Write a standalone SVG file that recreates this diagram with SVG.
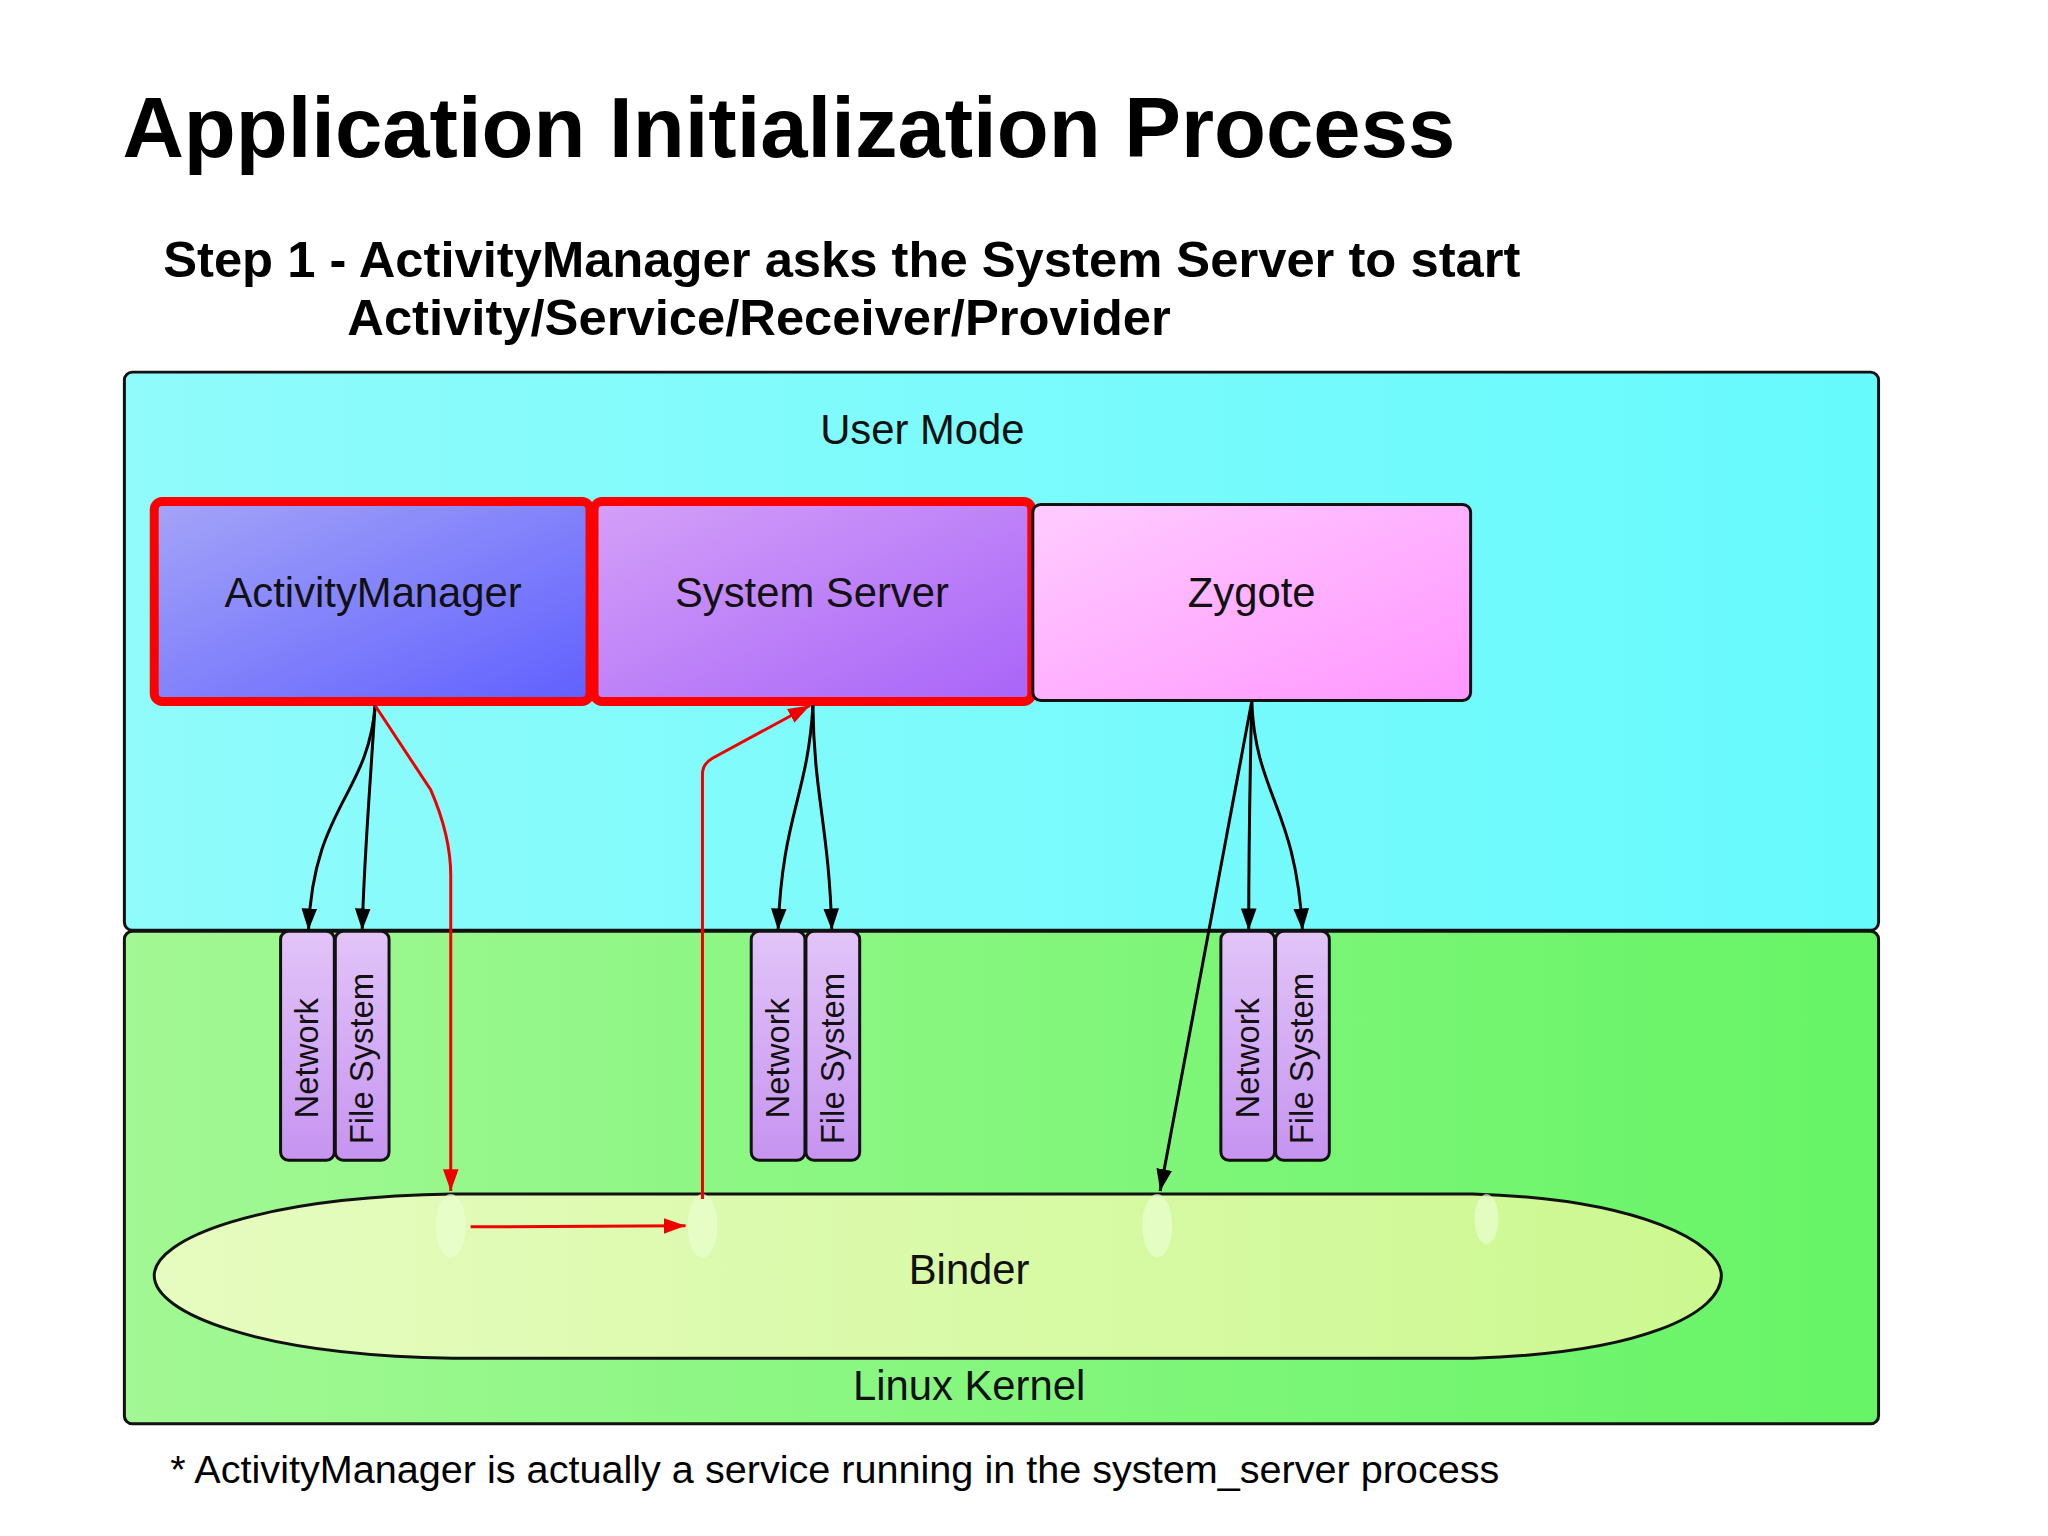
<svg xmlns="http://www.w3.org/2000/svg" width="2048" height="1536" viewBox="0 0 2048 1536">
<defs>
<linearGradient id="gU" x1="0" y1="0" x2="1" y2="0"><stop offset="0" stop-color="#90fbfb"/><stop offset="1" stop-color="#66fafd"/></linearGradient>
<linearGradient id="gK" x1="0" y1="0" x2="1" y2="0"><stop offset="0" stop-color="#a2f894"/><stop offset="1" stop-color="#66f466"/></linearGradient>
<linearGradient id="gAM" x1="0" y1="0" x2="1" y2="1"><stop offset="0" stop-color="#a4a4f8"/><stop offset="1" stop-color="#6060ff"/></linearGradient>
<linearGradient id="gSS" x1="0" y1="0" x2="1" y2="1"><stop offset="0" stop-color="#d4a0f8"/><stop offset="1" stop-color="#a864f8"/></linearGradient>
<linearGradient id="gZ" x1="0" y1="0" x2="1" y2="1"><stop offset="0" stop-color="#ffccff"/><stop offset="1" stop-color="#ff96ff"/></linearGradient>
<linearGradient id="gS" x1="0" y1="0" x2="0" y2="1"><stop offset="0" stop-color="#e2c4f8"/><stop offset="1" stop-color="#c694f0"/></linearGradient>
<linearGradient id="gB" x1="0" y1="0" x2="1" y2="0"><stop offset="0" stop-color="#e6fcc0"/><stop offset="1" stop-color="#ccf890"/></linearGradient>
<marker id="ak" viewBox="0 0 14 10" refX="14" refY="5" markerWidth="22" markerHeight="16" markerUnits="userSpaceOnUse" orient="auto"><path d="M0,0 L14,5 L0,10 z" fill="#000"/></marker>
<marker id="ar" viewBox="0 0 14 10" refX="14" refY="5" markerWidth="22" markerHeight="16" markerUnits="userSpaceOnUse" orient="auto"><path d="M0,0 L14,5 L0,10 z" fill="#e00"/></marker>
</defs>
<style>
text{font-family:"Liberation Sans",Arial,sans-serif;fill:#111}
.lbl{font-size:42px;text-anchor:middle}
.sm{font-size:33px}
.box{stroke:#111;stroke-width:3}
.k{fill:none;stroke:#000;stroke-width:3;marker-end:url(#ak)}
.r{fill:none;stroke:#e00;stroke-width:3;marker-end:url(#ar)}
</style>
<rect width="2048" height="1536" fill="#fff"/>
<g transform="scale(0.995)">
<text x="123" y="158" font-size="85.5" font-weight="bold" style="fill:#000">Application Initialization Process</text>
<text x="164" y="278" font-size="51" font-weight="bold" style="fill:#000">Step 1 - ActivityManager asks the System Server to start</text>
<text x="349" y="337" font-size="51" font-weight="bold" style="fill:#000">Activity/Service/Receiver/Provider</text>

<g id="usermode"><rect x="125" y="374" width="1763" height="561" rx="8" fill="url(#gU)" class="box"/><text class="lbl" x="927" y="446">User Mode</text></g>
<g id="kernel"><rect x="125" y="936" width="1763" height="495" rx="8" fill="url(#gK)" class="box"/><text class="lbl" x="974" y="1407">Linux Kernel</text></g>
<g id="binder"><path d="M455,1200 H1480 C1650,1205 1730,1250 1730,1282 C1730,1320 1650,1360 1480,1365 H455 C260,1362 155,1320 155,1282 C155,1245 260,1203 455,1200 Z" fill="url(#gB)" class="box"/>
<g fill="#eaffd0" opacity="0.7"><ellipse cx="453" cy="1232" rx="15" ry="32"/><ellipse cx="706" cy="1232" rx="15" ry="32"/><ellipse cx="1163" cy="1232" rx="15" ry="32"/><ellipse cx="1494" cy="1225" rx="12" ry="25"/></g>
<text class="lbl" x="974" y="1290">Binder</text></g>

<g id="am"><rect x="155" y="504" width="438" height="201" rx="8" fill="url(#gAM)" stroke="#f00" stroke-width="9"/><text class="lbl" x="375" y="610">ActivityManager</text></g>
<g id="ss"><rect x="597" y="504" width="440" height="201" rx="8" fill="url(#gSS)" stroke="#f00" stroke-width="9"/><text class="lbl" x="816" y="610">System Server</text></g>
<g id="zygote"><rect x="1038" y="507" width="440" height="197" rx="8" fill="url(#gZ)" class="box"/><text class="lbl" x="1258" y="610">Zygote</text></g>

<g id="am-net"><rect x="282" y="936" width="54" height="230" rx="8" fill="url(#gS)" class="box"/><text class="sm" transform="translate(320,1124) rotate(-90)">Network</text></g>
<g id="am-fs"><rect x="337" y="936" width="54" height="230" rx="8" fill="url(#gS)" class="box"/><text class="sm" transform="translate(375,1150) rotate(-90)">File System</text></g>
<g id="ss-net"><rect x="755" y="936" width="54" height="230" rx="8" fill="url(#gS)" class="box"/><text class="sm" transform="translate(793,1124) rotate(-90)">Network</text></g>
<g id="ss-fs"><rect x="810" y="936" width="54" height="230" rx="8" fill="url(#gS)" class="box"/><text class="sm" transform="translate(848,1150) rotate(-90)">File System</text></g>
<g id="z-net"><rect x="1227" y="936" width="54" height="230" rx="8" fill="url(#gS)" class="box"/><text class="sm" transform="translate(1265,1124) rotate(-90)">Network</text></g>
<g id="z-fs"><rect x="1282" y="936" width="54" height="230" rx="8" fill="url(#gS)" class="box"/><text class="sm" transform="translate(1320,1150) rotate(-90)">File System</text></g>

<g id="connectors">
<path class="k" d="M377,709 C370,800 315,810 310,935"/>
<path class="k" d="M377,709 C372,790 366,860 364,935"/>
<path class="k" d="M817,709 C812,800 786,820 782,935"/>
<path class="k" d="M817,709 C818,800 833,830 836,935"/>
<path class="k" d="M1258,705 C1256,790 1255,860 1255,935"/>
<path class="k" d="M1258,705 C1262,800 1302,810 1309,935"/>
<path class="k" d="M1258,705 L1166,1197"/>
<path class="r" d="M377,709 L433,794 Q453,840 453,880 L453,1197"/>
<path class="r" d="M473,1233 L689,1232"/>
<path class="r" d="M706,1205 L706,778 Q706,768 716,762 L814,709"/>
</g>
<text x="171" y="1490" font-size="39.8" style="fill:#000">* ActivityManager is actually a service running in the system_server process</text>
</g>
</svg>
